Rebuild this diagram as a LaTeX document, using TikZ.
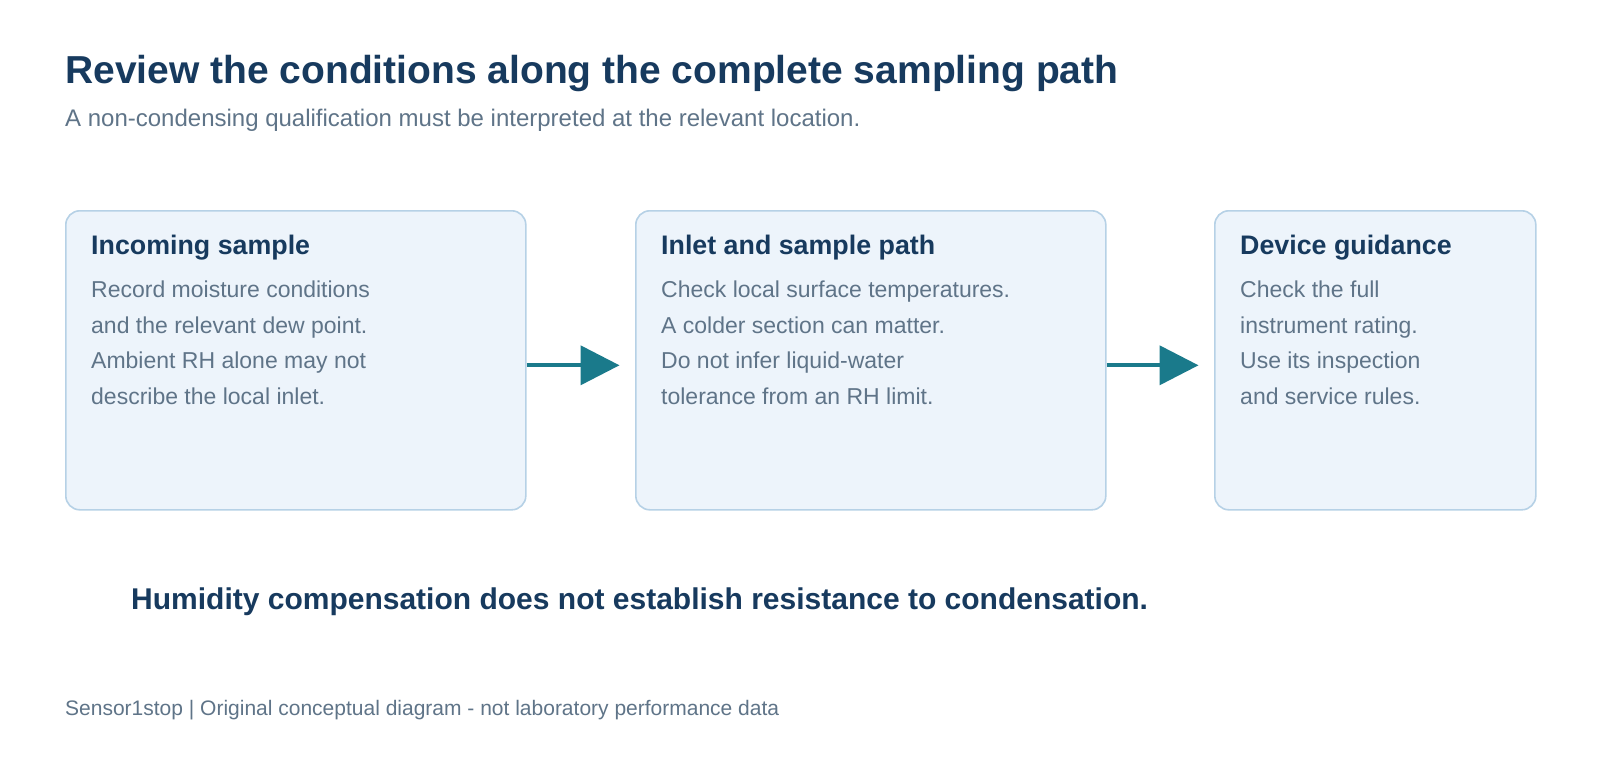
\documentclass[tikz,border=0pt]{standalone}
\usepackage{fontspec}
\setmainfont{Liberation Sans}
\usetikzlibrary{arrows.meta}
\definecolor{navy}{HTML}{173A5E}
\definecolor{slate}{HTML}{5F7488}
\definecolor{cardfill}{HTML}{EDF4FB}
\definecolor{cardline}{HTML}{B6D1E6}
\definecolor{flowteal}{HTML}{1A7A8B}
\tikzset{card/.style={draw=cardline,fill=cardfill,line width=1.6pt,rounded corners=14pt,inner sep=0pt,minimum height=299pt,anchor=north west}}
\tikzset{cardhead/.style={anchor=base west,inner sep=0pt,text=navy,font=\fontsize{26.8}{32}\selectfont\bfseries}}
\tikzset{cardtext/.style={anchor=base west,inner sep=0pt,text=slate,font=\fontsize{23}{28}\selectfont}}
\tikzset{flow/.style={line width=4pt,draw=flowteal,shorten >=15.5pt,-{Triangle[length=39pt,width=39pt,color=flowteal]}}}

\begin{document}
\begin{tikzpicture}[x=1pt,y=-1pt]
	\fill[white] (0,0) rectangle (1600,760);
	\node[anchor=base west,inner sep=0pt,text=navy,font=\fontsize{39}{46}\selectfont\bfseries] (title) at (65,83) {Review the conditions along the complete sampling path};
	\node[anchor=base west,inner sep=0pt,text=slate,font=\fontsize{24}{28}\selectfont] (subtitle) at (65,126) {A non-condensing qualification must be interpreted at the relevant location.};
	\node[card,minimum width=460pt] (incoming) at (65,210) {};
	\node[card,minimum width=470pt] (inlet) at (635,210) {};
	\node[card,minimum width=321pt] (device) at (1214,210) {};
	\node[cardhead] (incominghead) at ([shift={(26,44)}]incoming.north west) {Incoming sample};
	\node[cardhead] (inlethead) at ([shift={(26,44)}]inlet.north west) {Inlet and sample path};
	\node[cardhead] (devicehead) at ([shift={(26,44)}]device.north west) {Device guidance};
	\foreach \txt [count=\i] in {Record moisture conditions,and the relevant dew point.,Ambient RH alone may not,describe the local inlet.}
		\node[cardtext] (incoming-\i) at ([shift={(26,52+35.5*\i)}]incoming.north west) {\txt};
	\foreach \txt [count=\i] in {Check local surface temperatures.,A colder section can matter.,Do not infer liquid-water,tolerance from an RH limit.}
		\node[cardtext] (inlet-\i) at ([shift={(26,52+35.5*\i)}]inlet.north west) {\txt};
	\foreach \txt [count=\i] in {Check the full,instrument rating.,Use its inspection,and service rules.}
		\node[cardtext] (device-\i) at ([shift={(26,52+35.5*\i)}]device.north west) {\txt};
	\draw[flow] ([yshift=-5pt]incoming.east) -- ([yshift=-5pt]inlet.west);
	\draw[flow] ([yshift=-5pt]inlet.east) -- ([yshift=-5pt]device.west);
	\node[anchor=base west,inner sep=0pt,text=navy,font=\fontsize{30}{36}\selectfont\bfseries] (verdict) at (131,609) {Humidity compensation does not establish resistance to condensation.};
	\node[anchor=base west,inner sep=0pt,text=slate,font=\fontsize{21}{25}\selectfont] (footer) at (65,715) {Sensor1stop | Original conceptual diagram - not laboratory performance data};
\end{tikzpicture}
\end{document}
